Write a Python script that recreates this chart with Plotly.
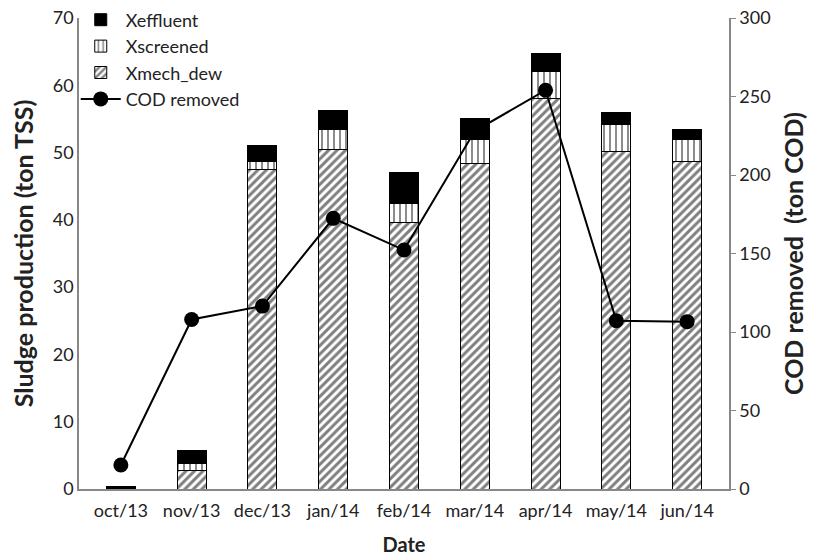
import plotly.graph_objects as go

dates = ["oct/13", "nov/13", "dec/13", "jan/14", "feb/14", "mar/14", "apr/14", "may/14", "jun/14"]
x_mech_dew = [0.05, 2.7, 47.5, 50.5, 39.6, 48.4, 58.0, 50.2, 48.7]
x_screened = [0.05, 1.1, 1.2, 3.0, 2.9, 3.5, 4.0, 3.9, 3.2]
x_effluent = [0.2, 1.9, 2.3, 2.8, 4.6, 3.2, 2.7, 1.8, 1.5]
cod_removed = [15.3, 108, 116.5, 172.4, 152.2, 228, 254, 107.2, 106.6]

FONT = "Lato, Open Sans, sans-serif"

fig = go.Figure()
fig.add_trace(go.Bar(
    x=dates, y=x_mech_dew, name="Xmech_dew", legendrank=3, legendgroup="g3",
    marker=dict(color="white", line=dict(color="black", width=1),
                pattern=dict(shape="/", fgcolor="black", bgcolor="white", size=6, solidity=0.5)),
))
fig.add_trace(go.Bar(
    x=dates, y=x_screened, name="Xscreened", legendrank=2, legendgroup="g2",
    marker=dict(color="white", line=dict(color="black", width=1),
                pattern=dict(shape="|", fgcolor="black", bgcolor="white", size=6, solidity=0.3)),
))
fig.add_trace(go.Bar(
    x=dates, y=x_effluent, name="Xeffluent", legendrank=1, legendgroup="g1",
    marker=dict(color="black", line=dict(color="black", width=1)),
))
fig.add_trace(go.Scatter(
    x=dates, y=cod_removed, name="COD removed", legendrank=4, legendgroup="g4", yaxis="y2",
    mode="lines+markers",
    line=dict(color="black", width=2),
    marker=dict(color="black", size=15, symbol="circle"),
))

fig.update_layout(
    width=814, height=558,
    margin=dict(l=79, r=85, t=18, b=69, autoexpand=False),
    barmode="stack", bargap=0.59,
    plot_bgcolor="white", paper_bgcolor="white",
    font=dict(family=FONT, size=18, color="#222"),
    showlegend=True,
    legend=dict(x=-0.005, y=1.035,
                xanchor="left", yanchor="top", traceorder="normal",
                bgcolor="rgba(0,0,0,0)", font=dict(size=18, color="#222"),
                itemwidth=40, tracegroupgap=11),
    xaxis=dict(
        showline=True, linecolor="#888", linewidth=1.5, showgrid=False, automargin=False,
        ticks="", tickfont=dict(size=18), ticklabelstandoff=5,
        title=dict(text="<b>Date</b>", font=dict(size=20), standoff=18),
    ),
    yaxis=dict(
        range=[0, 70], dtick=10, showline=True, linecolor="#888", linewidth=1.5,
        showgrid=False, zeroline=False, ticks="", tickfont=dict(size=18), automargin=False,
        ticklabeloverflow="allow",
        title=dict(text="<b>Sludge production (ton TSS)</b>", font=dict(size=25), standoff=12),
    ),
    yaxis2=dict(
        range=[0, 300], dtick=50, overlaying="y", side="right",
        showline=True, linecolor="#888", linewidth=1.5, showgrid=False, zeroline=False,
        ticks="outside", ticklen=5, tickcolor="#888", tickfont=dict(size=18), automargin=False,
        ticklabeloverflow="allow",
        title=dict(text="<b>COD removed\u00a0 (ton COD)</b>", font=dict(size=25), standoff=16),
    ),
)

fig.write_html("out.html", config={"displayModeBar": False},
               post_script="document.body.style.margin='0';")
